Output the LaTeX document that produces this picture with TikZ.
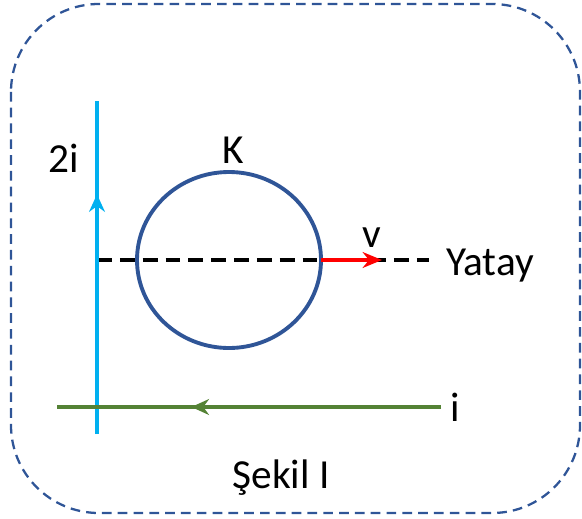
\documentclass[tikz,border=0pt]{standalone}
\usepackage{fontspec}
\setmainfont{Carlito}
\usetikzlibrary{arrows.meta,decorations.markings}
\definecolor{frameblue}{HTML}{2F5597}
\definecolor{wireblue}{HTML}{00B0F0}
\definecolor{wiregreen}{HTML}{548235}
\begin{document}
\begin{tikzpicture}[x=0.02cm, y=-0.02cm, font=\fontsize{23.5}{28}\selectfont,
    midarrow/.style={postaction={decorate}, decoration={markings,
      mark=at position #1 with {\arrow{Stealth[length=10pt,width=9pt]}}}}]
  % page size of the reference
  \useasboundingbox (0,0) rectangle (582,518);
  \draw[frameblue, line width=1.3pt, dash pattern=on 5.5pt off 3.5pt, rounded corners=50pt]
    (11,4) rectangle (580,513);
  % points of the wires
  \coordinate (A) at (97,101);
  \coordinate (B) at (97,434);
  \coordinate (C) at (441,407);
  \coordinate (D) at (57,407);
  \coordinate (H) at (97,260);
  \coordinate (E) at (429,260);
  \coordinate (O) at (229,260);
  \coordinate (R) at (321,260);
  \coordinate (V) at (382,260);
  % horizontal line
  \draw[line width=1.8pt, dash pattern=on 8.5pt off 4.5pt] (H)--(E);
  % wire 2i, current upwards
  \draw[wireblue, line width=2.4pt, midarrow=0.72] (B)--(A);
  % wire i, current to the left
  \draw[wiregreen, line width=2.4pt, midarrow=0.65] (C)--(D);
  % loop K
  \draw[frameblue, line width=2.2pt] (O) ellipse [x radius=92, y radius=88];
  % velocity
  \draw[red, line width=2.2pt, -{Stealth[length=11pt,width=9pt]}] (R)--(V);
  \node (lab2i) at (64,158) {2i};
  \node (labK) at (233,150) {K};
  \node (labv) at (372,238) {v};
  \node (labY) at (490,266) {Yatay};
  \node (labi) at (455,407) {i};
  \node (cap) at (281,478) {Şekil I};
\end{tikzpicture}
\end{document}
